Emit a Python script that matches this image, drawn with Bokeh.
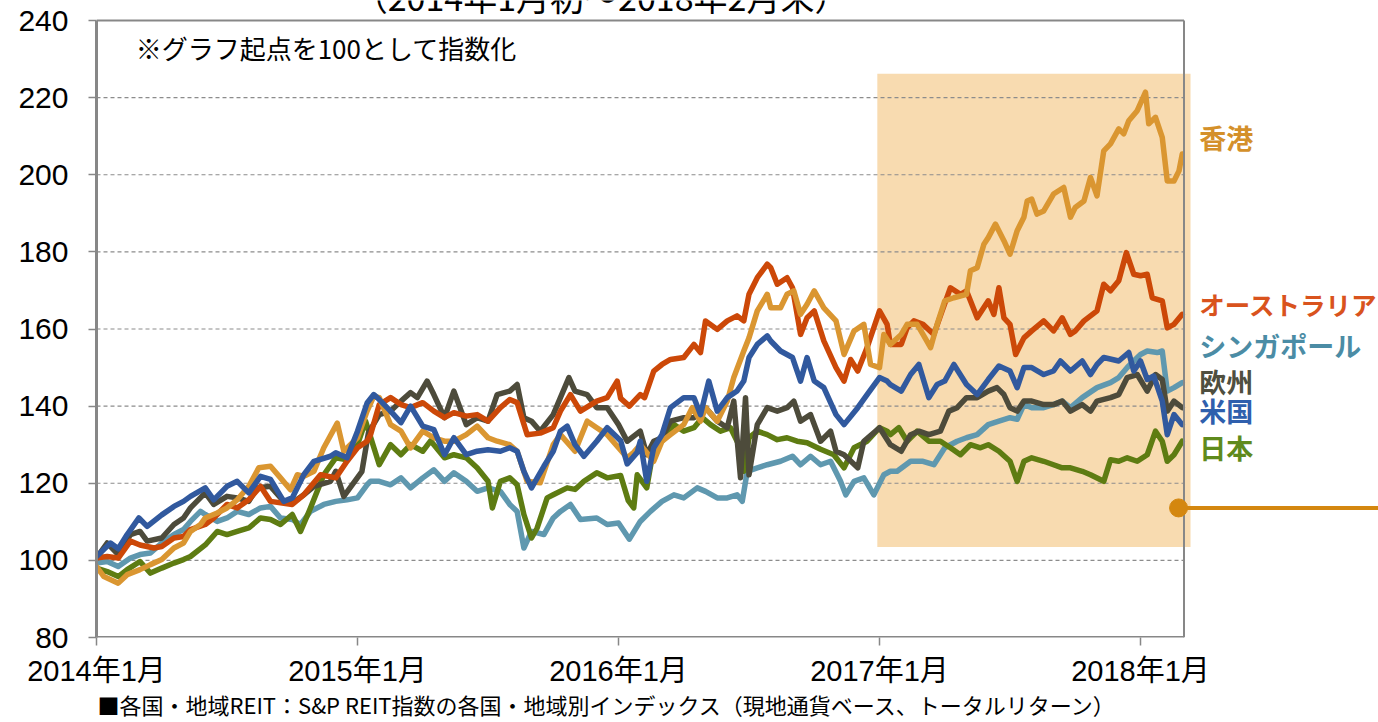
from bokeh.plotting import figure
from bokeh.models import Range1d, FixedTicker, Label, Title
from bokeh.embed import file_html
from bokeh.resources import INLINE

# ---------------- data (x = months since 2014年1月初, y = index, start = 100) ----------------
TICK_MONTHS = [0, 12, 24, 36, 48]
TICK_LABELS = ["2014年1月", "2015年1月", "2016年1月", "2017年1月", "2018年1月"]
Y_TICKS = [80, 100, 120, 140, 160, 180, 200, 220, 240]
PERIOD_END = 50  # 2018年2月末

hongkong = [(0,98.4),(0.34,95.8),(1,94.1),(1.41,96.3),(2,97.6),(2.48,98.9),(3,100.2),(3.56,103.2),(4,104.5),(4.32,107.5),(4.78,109.3),(5,111),(5.55,112.3),(6,113.6),(6.47,115.7),(7,119.2),(7.46,124),(8,124.4),(8.46,121.4),(8.92,118.3),(9.23,122.2),(9.53,121.8),(10,123.1),(10.45,129.2),(11.07,135.6),(11.37,128.3),(12,131.8),(12.44,138.7),
    (12.75,142.6),(13,142.2),(13.52,135.2),(14,133.5),(14.44,129.2),(15,133.5),(15.51,131.8),(16,130.9),(16.43,130.9),(17,132.6),(17.5,134.8),(18,131.8),(18.42,130.9),(19,130),(19.34,128.3),(19.8,120.5),(20.4,120.1),(21,130),(21.33,132.6),(22,128.3),(22.56,136.1),(23,134.4),(23.48,132.6),(24,129.2),(24.4,126.6),
    (24.7,128),(25,130),(25.62,125.7),(26,130.9),(26.39,132.6),(27,135.2),(27.39,139.6),(27.77,136.1),(28,139.6),(28.54,136.1),(29,141.3),(29.3,147.4),(29.76,154.3),(30,157.7),(30.38,164.7),(30.84,169),(31,165.5),(31.45,165.5),(31.75,169),(32.06,169.9),(32.37,163.8),(32.67,166.4),(33,169.9),(33.44,165.5),(34,162.1),(34.37,153.4),(34.83,159.5),(35.28,161.2),(35.59,150.8),(36,150),
    (36.2,158.6),(36.5,156),(37,158.6),(37.27,161.2),(37.73,161.2),(38,158.6),(38.35,155.2),(38.65,161.2),(39,167.3),(39.42,168.1),(40,169),(40.18,175.1),(40.49,175.9),(40.8,182),(41,183.7),(41.33,187.2),(41.72,182.9),(42,179.4),(42.33,185.5),(42.64,189),(42.79,193.2),(43,193.7),(43.24,189.8),(43.55,190.6),(44,195),(44.47,196.7),(44.78,189),(45,191.5),(45.4,193.2),(45.7,199.3),(46,194.5),(46.31,206.2),(46.62,208),(47,211.9),(47.23,210.6),(47.46,214),(47.85,216.6),(48.23,221.4),(48.38,213.2),(48.69,214.9),(49,209.7),(49.23,198.4),(49.54,198.4),(49.77,201),(49.92,205.4)]

australia = [(0,100.6),(0.49,101),(1,100.6),(1.56,105),(2,104),(2.64,103.2),(3,103.6),(3.56,105.8),(4,106.2),(4.32,108),(5,109.3),(5.39,111),(6,114.5),(6.47,113.6),(7,115.7),(7.54,119.2),(8,115.3),(9,114.5),(9.53,117),(10.3,122.2),(11,121.4),(11.52,125.7),(12,129.2),(12.44,130.9),
    (12.6,132.6),(13,140.4),(13.52,142.2),(14,140.4),(14.44,139.6),(15,140.9),(15.51,138.7),(16,137),(16.43,138.3),(17,137.4),(17.5,137.8),(18,136.1),(18.57,139.6),(19,141.7),(19.34,140.9),(19.8,132.6),(20.4,133),(21,134.4),(21.33,138.7),(21.79,143),(22.25,138.7),(23,141.3),(23.48,142.2),(23.94,146.5),
    (24.1,142),(24.5,140),(25,143),(25.2,142.2),(25.62,149.1),(26,150.8),(26.39,152.1),(27,152.6),(27.47,156),(27.77,153.9),(28,162.1),(28.54,159.9),(29,162.1),(29.45,163.4),(29.76,162.1),(30,169),(30.38,173.3),(30.84,176.8),(31,175.9),(31.3,171.6),(31.75,173.3),(32,170.7),(32.37,158.6),(32.67,162.9),(33,164.7),(33.44,156.9),(34,150),(34.37,146.5),(34.67,152.1),(35,149.1),(35.43,155.2),(36,164.7),(36.35,161.2),
    (36.5,156),(37,156),(37.27,160.3),(37.58,162.1),(38,161.2),(38.5,158.6),(38.88,164.7),(39.26,170.7),(39.72,169),(40,169.9),(40.49,162.9),(41,167.3),(41.26,163.8),(41.49,170.7),(41.72,162.9),(42,161.2),(42.26,153.4),(42.64,157.7),(43,159.5),(43.55,162.1),(44,159.5),(44.4,162.9),(44.78,158.6),(45,159.5),(45.4,162.1),(46,164.7),(46.31,171.6),(46.62,169.9),(47,172.5),(47.35,179.8),(47.69,174.2),(48,173.8),(48.31,174.2),(48.54,168.1),(49,167.3),(49.23,160.3),(49.54,161.2),(49.92,163.8)]

singapore = [(0,99.3),(0.49,99.7),(1,98.4),(1.56,100.6),(2,101.5),(2.48,101.9),(3,104.5),(3.56,106.7),(4,108),(4.32,110.1),(4.78,112.7),(5,111.9),(5.55,110.1),(6,111),(6.47,112.7),(7,111.9),(7.54,113.6),(8,114),(8.46,111),(9,110.6),(9.38,109.3),(9.84,112.7),(10.45,114.5),(11,115.3),(11.52,115.7),(12,116.2),(12.44,119.6),
    (12.6,120.5),(13,120.5),(13.52,119.6),(14,121.4),(14.44,118.8),(15,121.4),(15.51,123.5),(16,120.5),(16.43,122.7),(17,120.5),(17.5,117.9),(18,118.8),(18.57,117.9),(19,114.5),(19.34,112.7),(19.65,103.2),(20,107.5),(20.57,106.7),(21,111),(21.33,112.7),(21.79,114.5),(22.25,110.6),(23,111),(23.48,109.3),(24,109.7),
    (24.5,105.5),(25,110.1),(25.47,112.7),(26,115.3),(26.55,117),(27,116.2),(27.62,118.8),(28,117.9),(28.54,116.2),(29,116.2),(29.45,117),(29.69,115.3),(29.92,123.1),(30.38,124),(30.84,124.8),(31.45,125.7),(32,127),(32.37,124.8),(32.83,127),(33.29,124.8),(33.75,125.7),(34.21,120.5),(34.45,117),(34.83,120.5),(35.28,121.4),(35.74,117),(36.2,122.2),(36.5,123.1),
    (36.81,123.1),(37.43,125.7),(38,125.7),(38.5,124.8),(39,129.2),(39.57,130.9),(40,131.8),(40.49,132.6),(41,135.2),(41.49,136.1),(42,137),(42.33,136.6),(42.64,140.4),(43,139.6),(43.55,139.6),(44,140.4),(44.4,141.3),(44.78,139.6),(45.32,142.2),(46,144.8),(46.62,146.1),(47,147.4),(47.39,150),(47.69,151.7),(48,153.4),(48.31,154.3),(48.77,153.9),(49,154.3),(49.23,143.9),(49.54,144.8),(49.92,146.1)]

europe = [(0,100.6),(0.49,104.5),(1,101.5),(1.56,106.7),(2,107.5),(2.33,105),(3,105.8),(3.56,109.3),(4,111),(4.32,113.6),(5,117.5),(5.39,114.5),(6,116.6),(6.47,116.2),(7,115.3),(7.39,118.8),(8,119.2),(8.61,115.3),(9,114.9),(9.53,117),(10,119.2),(10.76,120.5),(11,123.1),(11.37,116.6),(12.2,123),
    (12.5,133),(13,137.8),(13.52,138.7),(14,141.3),(14.44,143.5),(14.75,142.2),(15.2,146.5),(15.51,143),(16,137),(16.43,143.9),(17,135.2),(17.5,137),(18,136.1),(18.42,143),(19,143.9),(19.34,145.6),(19.65,137),(20,136.1),(20.4,133.5),(21,137.8),(21.33,142.2),(21.72,147.4),(22,143.9),(22.56,143),(23,139.6),(23.48,139.6),(24,135.2),(24.4,130.9),
    (25,133.5),(25.3,127.4),(25.62,130.9),(26,131.8),(26.39,136.1),(27,137),(27.47,137),(28,139.6),(28.54,136.1),(29,134.4),(29.3,141.3),(29.61,121.4),(29.84,142.2),(30,122.2),(30.38,135.2),(30.84,139.6),(31.3,138.7),(31.75,139.6),(32.06,141.3),(32.37,136.1),(32.83,137.8),(33.29,130.9),(33.75,133.5),(34,128.3),(34.37,127.4),(35,124),(35.28,130.9),(36,134.4),
    (36.5,130),(37,128.3),(37.43,132.6),(37.81,133.5),(38.27,132.6),(38.8,133.5),(39.19,138.7),(39.57,139.6),(40,142.2),(40.49,142.2),(41,143.9),(41.4,144.8),(41.72,143),(42,139.6),(42.33,138.7),(42.64,141.3),(43,141.3),(43.55,140.4),(44,140.4),(44.4,141.3),(44.78,138.7),(45.32,140.4),(45.7,138.7),(46,141.3),(46.62,142.2),(47,143),(47.39,147.4),(47.85,148.2),(48.31,143.9),(48.69,148.2),(49,146.9),(49.23,138.7),(49.54,141.3),(49.92,139.6)]

usa = [(0,101),(0.64,104.5),(1,103),(1.41,106.7),(1.95,111),(2.33,108.8),(3,111.8),(3.56,114),(4,115.3),(4.32,116.6),(5,118.8),(5.39,115.7),(6,119.2),(6.47,120.5),(7,117.5),(7.54,121.8),(8,121),(8.61,115.3),(9,116.2),(9.53,122.2),(10,125.7),(10.76,127),(11,127.9),(11.52,126.6),(12,133.5),(12.44,140.8),
    (12.75,143),(13,141.7),(13.52,138.7),(14,135.7),(14.44,140),(15,134.8),(15.51,133.9),(16,127.4),(16.43,131.8),(17,127.4),(17.5,128.3),(18,128.7),(18.57,128.3),(19,129.2),(19.34,128.3),(19.65,123.1),(20,118.8),(20.57,124.4),(21,128.3),(21.33,133.5),(21.64,134.8),(22,130),(22.41,127),(23,130.9),(23.48,134.4),(24.1,131),(24.4,125),(24.86,128),
    (25,130.9),(25.3,120.5),(25.62,129.2),(26,132.6),(26.39,139.6),(27,142.2),(27.47,142.2),(27.77,137.8),(28.15,146.5),(28.54,138.7),(29,142.2),(29.45,143.9),(29.76,146.5),(30,152.6),(30.38,156),(30.84,158.2),(31,156.9),(31.45,154.3),(32,152.6),(32.37,146.5),(32.67,152.6),(33,146.5),(33.44,144.8),(34,137.8),(34.37,135.2),(35,139.6),(35.43,143),(36,147.4),(36.35,146.5),
    (36.5,145.6),(37,143.9),(37.43,148.2),(37.81,150.8),(38.27,142.2),(38.65,145.6),(39,146.5),(39.42,150.8),(40,145.6),(40.49,143),(41,146.9),(41.49,150.4),(42,149.1),(42.33,144.8),(42.64,150),(43,150),(43.55,148.2),(44,149.1),(44.32,151.7),(44.78,149.1),(45.32,151.7),(45.7,148.2),(46,150.8),(46.31,152.6),(47,151.7),(47.46,153.9),(47.69,149.1),(48,151.7),(48.31,146.9),(48.61,147.8),(49,141.3),(49.23,132.6),(49.54,137.8),(49.92,135.2)]

japan = [(0,98),(0.49,97.1),(1,95.8),(1.41,97.6),(2,99.7),(2.48,96.7),(3,98),(3.56,99.3),(4,100.2),(4.32,101),(5,104),(5.55,107.5),(6,106.7),(6.47,107.5),(7,108.4),(7.54,111),(8,110.6),(8.46,109.3),(9,111.9),(9.38,107.5),(9.84,113.6),(10.45,122.2),(11,126.6),(11.52,126.1),(12,130),(12.37,136.1),
    (13,124.8),(13.52,130),(14,127.4),(14.44,130),(15,128.3),(15.36,131),(16,126.6),(16.43,127.4),(17,126.6),(17.5,124),(18,120.5),(18.2,113.6),(18.57,120.5),(19,121.4),(19.34,119.6),(19.65,111.9),(20,105.8),(20.26,108.4),(20.72,116.2),(21,117),(21.64,118.8),(22,118.4),(22.41,120.5),(23,122.7),(23.48,121.4),(24.1,122),
    (24.45,115.5),(24.7,113.6),(24.86,122.2),(25.3,118.8),(25.62,129.2),(26,130.9),(26.55,135.2),(27,133.5),(27.47,134.4),(27.85,137),(28.23,135.2),(28.69,133.5),(29.15,134.4),(29.53,130),(29.76,123.1),(30,131.8),(30.38,133.5),(30.84,132.6),(31.3,131.3),(31.75,131.8),(32.21,130.9),(32.67,130.5),(33.29,128.8),(33.9,127.4),(34.37,124),(34.83,129.2),(35.43,130.9),(36,134.4),(36.35,133.5),
    (36.5,132.6),(36.89,134.4),(37.27,130.9),(37.73,133.5),(38.27,130.9),(38.8,130.9),(39.26,129.2),(39.72,127.4),(40.18,130),(40.64,129.2),(41,130),(41.49,128.3),(42,125.7),(42.33,120.5),(42.64,125.7),(43,126.6),(43.55,125.7),(44,124.8),(44.4,124),(44.78,124),(45.32,123.1),(45.7,122.2),(46.31,120.5),(46.62,126.1),(47,125.7),(47.39,126.6),(47.85,125.7),(48.31,127.4),(48.69,133.5),(49,130.9),(49.23,125.7),(49.54,127.4),(49.92,130.9)]

TITLE = "（2014年1月初～2018年2月末）"
NOTE = "※グラフ起点を100として指数化"
SOURCE = "■各国・地域REIT：S&P REIT指数の各国・地域別インデックス（現地通貨ベース、トータルリターン）"

# ---------------- styling / layout ----------------
FONT = "Liberation Sans, Noto Sans CJK JP"
JFONT = "Noto Sans CJK JP"
GRID = "#8C8C8C"
AXIS = "#878787"

# draw order bottom -> top : (data, line colour, label text, label colour, label y, label size)
series = [
    (singapore, "#5F98AF", "シンガポール", "#4B8CA5", 155.7, "27px"),
    (japan,     "#5E7C12", "日本",         "#5F8A1C", 129.2, "27px"),
    (europe,    "#4D4B3B", "欧州",         "#4F4F40", 146.3, "27px"),
    (australia, "#CC4808", "オーストラリア", "#D9531D", 166.5, "25.5px"),
    (hongkong,  "#DA9631", "香港",         "#D4902A", 209.6, "27px"),
    (usa,       "#31599E", "米国",         "#2F5FAD", 138.8, "27px"),
]

# the page is drawn from its top-left corner (Bokeh's page template has no body margin)
W, H = 1378, 722
LEFT, BOTTOM = 96, 85
FRAME_H = H - BOTTOM          # frame spans canvas top -> y=80 line
TOP_PAD = 20                  # px between canvas top and the 240 line
PX_PER_MONTH = 21.75
PX_PER_UNIT = (FRAME_H - TOP_PAD) / 160.0
x_end = (W - LEFT) / PX_PER_MONTH
y_top = 80 + FRAME_H / PX_PER_UNIT

p = figure(width=W, height=H, output_backend="svg", toolbar_location=None,
           x_range=Range1d(0, x_end), y_range=Range1d(80, y_top),
           min_border_left=LEFT, min_border_right=0, min_border_top=0,
           min_border_bottom=BOTTOM, background_fill_color="white",
           border_fill_color="white")
p.outline_line_color = None
p.xgrid.grid_line_color = None
p.ygrid.grid_line_color = None

# highlighted period (2017年1月～)
p.quad(left=[35.9], right=[50.3], bottom=[103.5], top=[226.2],
       fill_color="#F8DBB0", line_color=None)

# dashed gridlines inside the plot box only
grid_vals = Y_TICKS[1:-1]
p.segment(x0=[0] * len(grid_vals), x1=[PERIOD_END] * len(grid_vals),
          y0=grid_vals, y1=grid_vals, line_color=GRID, line_width=1.2,
          line_dash="4 3")

for data, col, name, lcol, ly, fs in series:
    xs = [d[0] for d in data]
    ys = [d[1] for d in data]
    p.line(xs, ys, line_color=col, line_width=5.5, line_join="round", line_cap="round")

# box borders
p.segment(x0=[0], x1=[PERIOD_END], y0=[240], y1=[240], line_color=AXIS, line_width=2)
p.segment(x0=[PERIOD_END], x1=[PERIOD_END], y0=[80], y1=[240], line_color=AXIS, line_width=2)
p.segment(x0=[0], x1=[PERIOD_END], y0=[80], y1=[80], line_color=AXIS, line_width=3)

# callout marker
p.segment(x0=[49.75], x1=[x_end], y0=[113.6], y1=[113.6], line_color="#D4870F", line_width=4)
p.scatter([49.75], [113.6], size=18, fill_color="#D4870F", line_color="#D4870F")

# axes
p.yaxis.ticker = FixedTicker(ticks=Y_TICKS)
p.yaxis.bounds = (80, 240)
p.xaxis.ticker = FixedTicker(ticks=TICK_MONTHS)
p.xaxis.major_label_overrides = {m: t for m, t in zip(TICK_MONTHS, TICK_LABELS)}
for ax in (p.xaxis[0], p.yaxis[0]):
    ax.minor_tick_line_color = None
    ax.major_tick_line_color = AXIS
    ax.major_tick_line_width = 1.5
    ax.major_tick_in = 0
    ax.major_tick_out = 8
    ax.major_label_text_font = FONT
    ax.major_label_text_color = "black"
p.yaxis.major_label_text_font_size = "30px"
p.xaxis.major_label_text_font_size = "29px"
p.xaxis.major_label_text_line_height = 1.0
p.yaxis.axis_line_color = AXIS
p.yaxis.axis_line_width = 3
p.xaxis.axis_line_color = None
p.yaxis.major_label_standoff = 20
p.xaxis.major_label_standoff = 9

# source note under the plot box, left aligned with it
p.add_layout(Title(text=SOURCE, align="left", offset=1, standoff=-8,
                   text_font=JFONT, text_font_size="22px", text_font_style="normal",
                   text_line_height=1.0, text_color="black"), "below")

# series labels
for data, col, name, lcol, ly, fs in series:
    p.add_layout(Label(x=50.7, y=ly, text=name, text_color=lcol, text_font=JFONT,
                       text_font_size=fs, text_font_style="bold",
                       text_baseline="middle", text_align="left"))

p.add_layout(Label(x=1.8, y=240 - 27 / PX_PER_UNIT, text=NOTE, text_font=JFONT,
                   text_font_size="26px", text_baseline="middle", text_color="black"))
# period title: only its lower part is visible at the top edge, as in the original
p.add_layout(Label(x=23.2, y=240 + 24 / PX_PER_UNIT, text=TITLE, text_font=JFONT,
                   text_font_size="34px", text_baseline="alphabetic", text_align="center",
                   text_color="black"))

open("out.html", "w").write(file_html(p, INLINE))
